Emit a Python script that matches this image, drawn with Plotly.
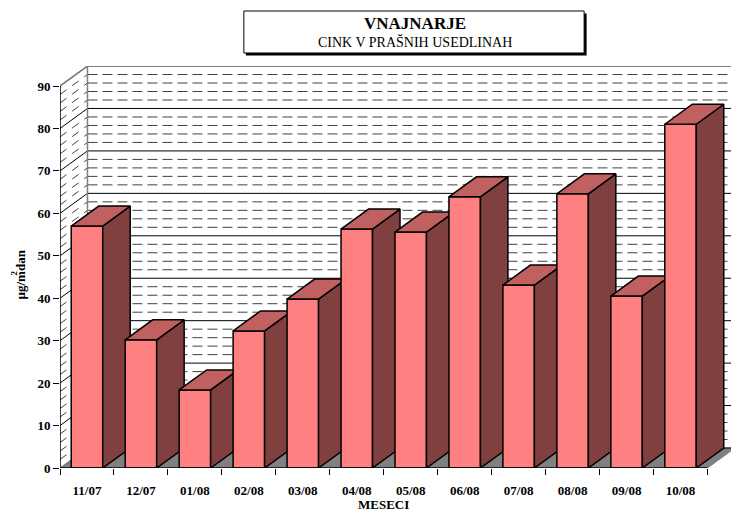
import plotly.graph_objects as go

categories = ["11/07","12/07","01/08","02/08","03/08","04/08","05/08","06/08","07/08","08/08","09/08","10/08"]
values = [57.0,30.2,18.4,32.3,39.8,56.3,55.6,63.9,43.1,64.6,40.5,81.0]
y_ticks = list(range(0,91,10))
minor_grid = list(range(0,91,2))

FRONT="#FF8080"; TOP="#C06060"; SIDE="#804040"; FLOOR="#808080"; EDGE="#000000"; WALL="#808080"; MINOR="#404040"
FONT="Liberation Serif"
PX_X=54.0; PX_Y=4.244
W,H=731,512
L,B,T=59.5,44,66
DX=27.5/PX_X; DY=20/PX_Y
xmax=(W-L)/PX_X; ymax=(H-B-T)/PX_Y
BAR=31.5/PX_X
n=len(categories)

fig=go.Figure()
def line(xs,ys,color="#000000",dash=None,width=1,fill=None,fc=None,xa="x"):
    fig.add_trace(go.Scatter(x=xs,y=ys,mode="lines",line=dict(color=color,width=width,dash=dash),
        fill=fill,fillcolor=fc,hoverinfo="skip",showlegend=False,cliponaxis=False,xaxis=xa,yaxis="y"))

# floor
line([0,n,n+DX,DX,0],[0,0,DY,DY,0],color=FLOOR,fill="toself",fc=FLOOR)
# gridlines on back and left walls
for v in minor_grid:
    major=v%10==0
    if v==0:
        line([DX,n+DX],[DY,DY],color="#000000",width=1)
        continue
    if major:
        line([DX,n+DX],[v+DY,v+DY])
        line([0,DX],[v,v+DY])
    else:
        line([DX,n+DX],[v+DY,v+DY],color=MINOR,dash="10px,5px")
        line([0,DX],[v,v+DY],color=MINOR,dash="8px,7px")
# wall edges
line([DX,DX],[DY,90+DY],color=WALL,width=1.5)
line([DX,n+DX],[90+DY,90+DY],color=WALL,width=1.5)
line([0,DX],[90,90+DY],color=WALL,width=1.5)
line([0,DX],[0,DY],color=WALL,width=1)

# bars, each on its own overlaying axis so later bars paint over earlier depth faces
for i,(c,v) in enumerate(zip(categories,values)):
    xa=f"x{i+3}"
    cx=i+0.5; l=cx-BAR/2; r=cx+BAR/2
    fig.add_trace(go.Bar(x=[cx],y=[v],width=[BAR],marker=dict(color=FRONT,line=dict(color=EDGE,width=1.5)),
        name=c,showlegend=False,xaxis=xa,yaxis="y",hovertemplate=c+": %{y}<extra></extra>"))
    line([r,r+DX,r+DX,r,r],[0,DY,v+DY,v,0],color=EDGE,width=1.5,fill="toself",fc=SIDE,xa=xa)
    line([l,r,r+DX,l+DX,l],[v,v,v+DY,v+DY,v],color=EDGE,width=1.5,fill="toself",fc=TOP,xa=xa)

# y axis line and base line
line([0,0],[0,90],width=1.5,xa="x")
line([0,n],[0,0],width=1.5,xa="x15")

fig.add_trace(go.Scatter(x=[0],y=[0],mode="markers",marker=dict(opacity=0),xaxis="x2",yaxis="y",showlegend=False,hoverinfo="skip"))

def px(x): return (x-L)/(W-L)
def py(y): return (H-B-y)/(H-B-T)

layout=dict(
    width=W,height=H,autosize=False,
    margin=dict(l=L,r=0,t=T,b=B,pad=0),
    paper_bgcolor="white",plot_bgcolor="white",showlegend=False,barmode="overlay",
    font=dict(family=FONT,color="#000000"),
    xaxis=dict(range=[0,xmax],tickmode="array",tickvals=list(range(n+1)),showticklabels=False,ticks="outside",ticklen=6,tickwidth=1,tickcolor="#000000",
        showgrid=False,zeroline=False,showline=False),
    xaxis2=dict(range=[0,xmax],overlaying="x",side="bottom",anchor="y",tickmode="array",tickvals=[i+0.5 for i in range(n)],ticktext=categories,
        ticks="outside",ticklen=10,tickcolor="rgba(0,0,0,0)",tickfont=dict(family=FONT,size=13,color="#000000",weight="bold"),showgrid=False,zeroline=False,showline=False),
    yaxis=dict(range=[0,ymax],tickmode="array",tickvals=y_ticks,ticktext=[str(t) for t in y_ticks],ticks="outside",ticklen=6,tickwidth=1,tickcolor="#000000",
        tickfont=dict(family=FONT,size=13,color="#000000",weight="bold"),showgrid=False,zeroline=False,showline=False),
    shapes=[
        dict(type="rect",xref="paper",yref="paper",x0=px(245.5),x1=px(586.5),y0=py(55.5),y1=py(13.5),fillcolor="#000000",line=dict(width=0)),
        dict(type="rect",xref="paper",yref="paper",x0=px(243.5),x1=px(584),y0=py(53),y1=py(11),fillcolor="#FFFFFF",line=dict(color="#000000",width=1)),
    ],
    annotations=[
        dict(text="<b>VNAJNARJE</b>",xref="paper",yref="paper",x=px(415),y=py(24),showarrow=False,font=dict(family=FONT,size=17),xanchor="center",yanchor="middle"),
        dict(text="CINK V PRAŠNIH USEDLINAH",xref="paper",yref="paper",x=px(414.5),y=py(42),showarrow=False,font=dict(family=FONT,size=14),xanchor="center",yanchor="middle"),
        dict(text="<b>MESECI</b>",xref="paper",yref="paper",x=px(383),y=py(504),showarrow=False,font=dict(family=FONT,size=13),xanchor="center",yanchor="middle"),
        dict(text="<b>µg/mdan</b>",xref="paper",yref="paper",x=px(19),y=py(275),showarrow=False,textangle=-90,font=dict(family=FONT,size=13),xanchor="center",yanchor="middle"),
        dict(text="<b>2</b>",xref="paper",yref="paper",x=px(13),y=py(273),showarrow=False,textangle=-90,font=dict(family=FONT,size=9),xanchor="center",yanchor="middle"),
    ],
)
for i in range(n+1):
    layout[f"xaxis{i+3}"]=dict(range=[0,xmax],overlaying="x",visible=False,anchor="y")
fig.update_layout(**layout)
fig.write_html("out.html",config={"displayModeBar":False},post_script="document.body.style.margin='0';document.body.style.overflow='hidden';")
